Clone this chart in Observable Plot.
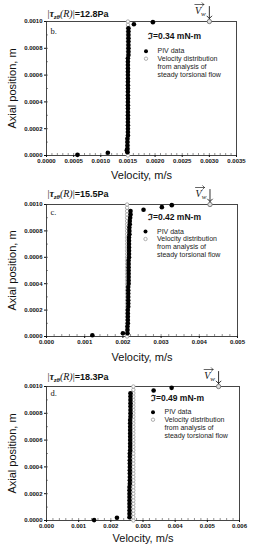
<!DOCTYPE html>
<html>
<head>
<meta charset="utf-8">
<script src="https://cdn.jsdelivr.net/npm/d3@7"></script>
<script src="https://cdn.jsdelivr.net/npm/@observablehq/plot@0.6"></script>
<style>
  html, body { margin: 0; padding: 0; background: white; }
  #charts > div { display: block; line-height: 0; }
  svg { display: block; }
</style>
</head>
<body>
<div id="charts"></div>
<script>
// ---------- data ----------
const letters = ["b.", "c.", "d."];
const stress = [12.8, 15.5, 18.3];          // |tau_z theta(R)|, Pa
const torque = [0.34, 0.42, 0.49];          // mN-m
const xMax = [0.0035, 0.005, 0.006];
const xTicks = [
  [0, 0.0005, 0.001, 0.0015, 0.002, 0.0025, 0.003, 0.0035],
  [0, 0.001, 0.002, 0.003, 0.004, 0.005],
  [0, 0.001, 0.002, 0.003, 0.004, 0.005, 0.006]
];
const xFmt = [".4f", ".3f", ".3f"];
const yTicks = [0, 0.0002, 0.0004, 0.0006, 0.0008, 0.001];

// PIV measurement heights of the dense column
const pivGridY = [0.000025,0.00005,0.000075,0.0001,0.000125,0.00015,0.000175,0.0002,0.000225,0.00025,
  0.000275,0.0003,0.000325,0.00035,0.000375,0.0004,0.000425,0.00045,0.000475,0.0005,
  0.000525,0.00055,0.000575,0.0006,0.000625,0.00065,0.000675,0.0007,0.000725,0.00075,
  0.000775,0.0008,0.000825,0.00085,0.000875,0.0009,0.000925,0.00095];

// PIV velocities of the column, per panel
const colX1 = [0.00149,0.00149,0.00149,0.00149,0.00149,0.0015,0.0015,0.0015,0.0015,0.0015,
  0.0015,0.0015,0.0015,0.0015,0.0015,0.0015,0.0015,0.0015,0.0015,0.0015,
  0.0015,0.0015,0.0015,0.0015,0.0015,0.0015,0.0015,0.0015,0.0015,0.00151,
  0.00151,0.00151,0.00151,0.00151,0.00151,0.00151,0.00151,0.00151];
const colX2 = [0.00212,0.00212,0.00212,0.00213,0.00213,0.00213,0.00213,0.00213,0.00214,0.00214,
  0.00214,0.00214,0.00214,0.00214,0.00214,0.00215,0.00215,0.00215,0.00215,0.00215,
  0.00215,0.00215,0.00215,0.00216,0.00216,0.00216,0.00216,0.00216,0.00216,0.00216,
  0.00217,0.00217,0.00217,0.00218,0.00218,0.00219,0.0022,0.0022];
const colX3 = [0.00258,0.00258,0.00258,0.00258,0.00258,0.00258,0.00258,0.00258,0.00258,0.00258,
  0.00259,0.00259,0.00259,0.00259,0.00259,0.00259,0.00259,0.00259,0.00259,0.00259,
  0.0026,0.0026,0.0026,0.0026,0.0026,0.0026,0.0026,0.0026,0.0026,0.0026,
  0.00261,0.00261,0.00261,0.00261,0.00261,0.00261,0.00261,0.00261];
const colX = [colX1, colX2, colX3];

// isolated PIV points near the walls
const extraX = [
  [0.00057, 0.00113, 0.00148, 0.00161, 0.00196],
  [0.0012, 0.002, 0.00254, 0.00302, 0.00328],
  [0.00148, 0.00219, 0.00333, 0.00389]
];
const extraY = [
  [0.000005, 0.00002, 0.00004, 0.00098, 0.000995],
  [0.00001, 0.000025, 0.00096, 0.00098, 0.000995],
  [0.000003, 0.00002, 0.00097, 0.00099]
];

// steady torsional flow distribution
const modelY = [0,0.000025,0.00005,0.000075,0.0001,0.000125,0.00015,0.000175,0.0002,0.000225,
  0.00025,0.000275,0.0003,0.000325,0.00035,0.000375,0.0004,0.000425,0.00045,0.000475,
  0.0005,0.000525,0.00055,0.000575,0.0006,0.000625,0.00065,0.000675,0.0007,0.000725,
  0.00075,0.000775,0.0008,0.000825,0.00085,0.000875,0.0009,0.000925,0.00095,0.000975,0.001];
const modelX = [0.0015, 0.00211, 0.0027];
const wallX = [0.003, 0.00428, 0.00535];   // V_w

// ---------- layout ----------
const heights = [183, 183, 184];
const mTop = [21, 21, 20];
const mBot = [28, 30, 30];
const mRight = [17, 16, 14];
const mLeft = 46;
const titleDy = [-7, -10, -9];
const letterDy = [10, 8, 6.5];
const torqueDx = [101.5, 101.5, 104.5];
const torqueDy = [14.7, 13, 11.7];
const legDx = [99.5, 99, 106.5];
const legDy = [29.7, 27, 25.7];
const xTitleDy = [20, 21, 18];
const minorStep = [0.0001, 0.0002, 0.0002];

const SANS = "Liberation Sans, Arial, sans-serif";
const SERIF = "Liberation Serif, Times New Roman, serif";

function makePanel(i) {
  const W = 253, H = heights[i];
  const frameW = W - mLeft - mRight[i], frameH = H - mTop[i] - mBot[i];
  const piv = pivGridY.map((y, k) => ({x: colX[i][k], y}))
    .concat(extraX[i].map((x, k) => ({x, y: extraY[i][k]})));
  const model = modelY.map(y => ({x: modelX[i], y}));
  const wall = [{x: wallX[i], y: 0.001}];
  const xMinor = d3.range(0, xMax[i] + 1e-12, minorStep[i]);
  const yMinor = d3.range(0, 0.001 + 1e-12, 0.0001);
  const title = `|τzθ(R)|=${stress[i]}Pa`;
  const L = legDx[i], T = legDy[i];

  const plot = Plot.plot({
    width: W, height: H,
    marginTop: mTop[i], marginBottom: mBot[i], marginLeft: mLeft, marginRight: mRight[i],
    style: {fontFamily: SANS, background: "white", overflow: "visible", color: "#111"},
    x: {domain: [0, xMax[i]]},
    y: {domain: [0, 0.001]},
    marks: [
      Plot.ruleX(xMinor, {stroke: "#444", strokeWidth: 0.6, insetTop: frameH - 2}),
      Plot.ruleY(yMinor, {stroke: "#444", strokeWidth: 0.6, insetRight: frameW - 2}),
      Plot.frame({stroke: "#333", strokeWidth: 0.9}),
      Plot.axisX({ticks: xTicks[i], tickFormat: d3.format(xFmt[i]), tickSize: 2, tickPadding: 1,
        fontSize: 6, fontWeight: "bold", label: null}),
      Plot.axisY({ticks: yTicks, tickFormat: d3.format(".4f"), tickSize: 2, tickPadding: 2,
        fontSize: 6, fontWeight: "bold", label: null}),
      Plot.text(["Velocity, m/s"], {frameAnchor: "bottom", dy: xTitleDy[i], fontSize: 11,
        textAnchor: "middle", lineAnchor: "middle"}),
      Plot.text(["Axial position, m"], {frameAnchor: "left", dx: -34, rotate: -90, fontSize: 11,
        textAnchor: "middle", lineAnchor: "middle"}),
      Plot.dot(model, {x: "x", y: "y", r: 1.7, stroke: "#999", fill: "white", strokeWidth: 0.8}),
      Plot.dot(piv, {x: "x", y: "y", r: 2.3, fill: "black"}),
      Plot.dot(wall, {x: "x", y: "y", r: 2.2, stroke: "#666", fill: "#ddd", strokeWidth: 0.8}),
      Plot.vector(wall, {x: "x", y: "y", length: 12, rotate: 180, anchor: "end", dy: -3,
        stroke: "black", strokeWidth: 0.8}),
      Plot.vector(wall, {x: "x", y: "y", length: 9, rotate: 90, anchor: "middle", dx: -10, dy: -17,
        stroke: "black", strokeWidth: 0.6}),
      Plot.text(wall, {x: "x", y: "y", text: () => "Vw", dx: -9, dy: -10, fontSize: 9,
        textAnchor: "middle", lineAnchor: "middle"}),
      Plot.text([title], {frameAnchor: "top-left", dx: 1, dy: titleDy[i], fontSize: 9,
        fontWeight: "bold", textAnchor: "start", lineAnchor: "middle"}),
      Plot.text([letters[i]], {frameAnchor: "top-left", dx: 4, dy: letterDy[i], fontSize: 8.5,
        fontFamily: SERIF, textAnchor: "start", lineAnchor: "middle"}),
      Plot.text([`ℑ=${torque[i]} mN-m`], {frameAnchor: "top-left", dx: torqueDx[i], dy: torqueDy[i],
        fontSize: 8.5, fontWeight: "bold", textAnchor: "start", lineAnchor: "middle"}),
      Plot.dot([0], {frameAnchor: "top-left", dx: L, dy: T, r: 2, fill: "black"}),
      Plot.dot([0], {frameAnchor: "top-left", dx: L, dy: T + 7.5, r: 1.7, stroke: "#999", fill: "white", strokeWidth: 0.8}),
      Plot.text(["PIV data"], {frameAnchor: "top-left", dx: L + 11.5, dy: T, fontSize: 7, fill: "#222",
        textAnchor: "start", lineAnchor: "middle"}),
      Plot.text(["Velocity distribution"], {frameAnchor: "top-left", dx: L + 11.5, dy: T + 7.5, fontSize: 7, fill: "#222",
        textAnchor: "start", lineAnchor: "middle"}),
      Plot.text(["from analysis of"], {frameAnchor: "top-left", dx: L + 11.5, dy: T + 15.3, fontSize: 7, fill: "#222",
        textAnchor: "start", lineAnchor: "middle"}),
      Plot.text(["steady torsional flow"], {frameAnchor: "top-left", dx: L + 11.5, dy: T + 23.1, fontSize: 7, fill: "#222",
        textAnchor: "start", lineAnchor: "middle"})
    ]
  });

  const svg = d3.select(plot);
  svg.selectAll("text").each(function() {
    const t = d3.select(this);
    const txt = this.textContent;
    if (txt === title) {
      t.text(null);
      t.append("tspan").attr("font-family", SERIF).attr("font-weight", "normal").attr("font-size", 10).text("|");
      t.append("tspan").attr("font-family", SERIF).attr("font-style", "italic").attr("font-weight", "bold").attr("font-size", 10).text("τ");
      t.append("tspan").attr("font-family", SERIF).attr("font-style", "italic").attr("font-weight", "bold").attr("font-size", 6.5).attr("dy", 2).text("zθ");
      t.append("tspan").attr("font-family", SERIF).attr("font-style", "italic").attr("font-weight", "normal").attr("font-size", 10).attr("dy", -2).text("(R)");
      t.append("tspan").attr("font-family", SERIF).attr("font-weight", "normal").attr("font-size", 10).text("|");
      t.append("tspan").text(`=${stress[i]}Pa`);
    } else if (txt === "Vw") {
      t.text(null);
      t.append("tspan").attr("font-family", SERIF).attr("font-style", "italic").attr("font-size", 10).text("V");
      t.append("tspan").attr("font-family", SERIF).attr("font-style", "italic").attr("font-size", 7).attr("dy", 2).text("w");
    }
  });
  return plot;
}

const root = document.getElementById("charts");
for (let i = 0; i < 3; i++) {
  const div = document.createElement("div");
  div.appendChild(makePanel(i));
  root.appendChild(div);
}
</script>
</body>
</html>
